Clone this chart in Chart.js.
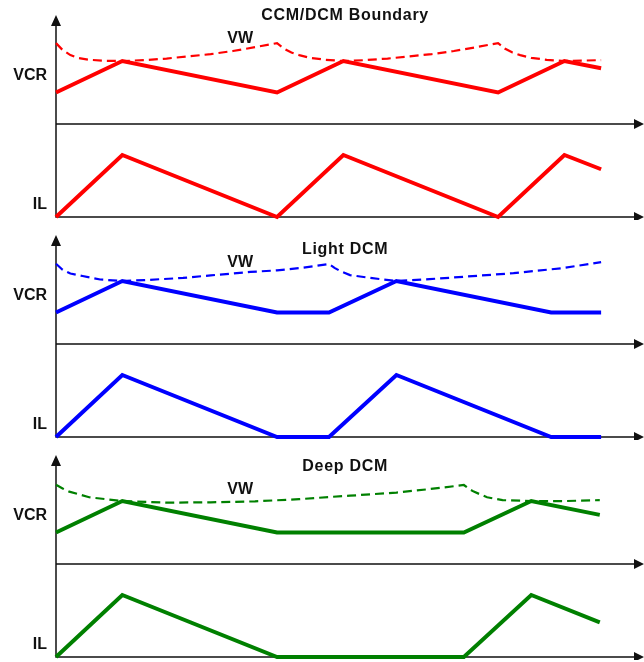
<!DOCTYPE html>
<html><head><meta charset="utf-8">
<script src="https://cdn.jsdelivr.net/npm/chart.js@4.4.1/dist/chart.umd.min.js"></script>
<style>
html,body{margin:0;padding:0;background:#fff;}
canvas{display:block;}
</style></head><body>
<canvas id="c1" width="644" height="220"></canvas>
<canvas id="c2" width="644" height="220"></canvas>
<canvas id="c3" width="644" height="220"></canvas>
<script>
// ---- text ----
const panelTitles = ['CCM/DCM Boundary', 'Light DCM', 'Deep DCM'];
const axisLabels = ['VCR', 'IL'];
const dashedLabel = 'VW';

// ---- CCM/DCM boundary ----
const ccmT   = [0, 3, 10, 13, 20, 23, 24.66];
const ccmVCR = [1, 2, 1, 2, 1, 2, 1.77];
const ccmIL  = [0, 1, 0, 1, 0, 1, 0.77];
const ccmVwT = [0, 0.3, 0.65, 1.0, 1.5, 2.2, 3, 4, 5, 6, 7, 8, 9, 10,
                10.3, 10.65, 11, 11.5, 12.2, 13, 14, 15, 16, 17, 18, 19, 20,
                20.3, 20.65, 21, 21.5, 22.2, 23, 24.66];
const ccmVW  = [2.57, 2.35, 2.19, 2.1, 2.04, 2.01, 2.0, 2.03, 2.08, 2.15, 2.22, 2.32, 2.44, 2.57,
                2.4, 2.27, 2.19, 2.1, 2.04, 2.0, 2.03, 2.08, 2.15, 2.22, 2.32, 2.44, 2.57,
                2.4, 2.27, 2.19, 2.1, 2.04, 2.0, 2.03];

// ---- Light DCM ----
const lightT   = [0, 3, 10, 12.35, 15.4, 22.4, 24.66];
const lightVCR = [1, 2, 1, 1, 2, 1, 1];
const lightIL  = [0, 1, 0, 0, 1, 0, 0];
const lightVwT = [0, 0.3, 0.65, 1.2, 2, 3, 4, 5.75, 7, 8.8, 10, 11, 12.35,
                  12.6, 12.85, 13.3, 14.2, 15.4, 16.9, 18.5, 20.7, 22.9, 24.66];
const lightVW  = [2.55, 2.36, 2.24, 2.16, 2.05, 2.0, 2.03, 2.1, 2.18, 2.29, 2.34, 2.41, 2.54,
                  2.42, 2.32, 2.19, 2.1, 2.0, 2.06, 2.14, 2.25, 2.41, 2.6];

// ---- Deep DCM ----
const deepT   = [0, 3, 10, 18.45, 21.5, 24.6];
const deepVCR = [1, 2, 1, 1, 2, 1.56];
const deepIL  = [0, 1, 0, 0, 1, 0.56];
const deepVwT = [0, 0.3, 0.6, 1.5, 3, 5, 7, 9, 11, 12.4, 13.3, 15.4, 16.9, 18.45,
                 18.7, 18.9, 19.5, 20.2, 21.5, 23, 24.6];
const deepVW  = [2.52, 2.4, 2.3, 2.12, 2.0, 1.95, 1.96, 1.99, 2.06, 2.13, 2.17, 2.27, 2.38, 2.51,
                 2.38, 2.3, 2.12, 2.03, 2.0, 2.0, 2.03];

const pairs = (ts, vs) => ts.map((t, i) => ({x: t, y: vs[i]}));
const FONT = '"Liberation Sans", Arial, sans-serif';

const axesPlugin = {
  id: 'axesArrows',
  beforeDatasetsDraw(chart, args, opts) {
    const {ctx, scales: {x, yV, yI}} = chart;
    const x0 = x.getPixelForValue(0), xR = x.getPixelForValue(x.max);
    const yV0 = yV.getPixelForValue(0), yI0 = yI.getPixelForValue(0);
    const yTip = yV.getPixelForValue(opts.tip);
    ctx.save();
    ctx.strokeStyle = '#111';
    ctx.fillStyle = '#111';
    ctx.lineWidth = 1.5;
    ctx.beginPath();
    ctx.moveTo(x0, yI0 + 0.75); ctx.lineTo(x0, yTip + 6);
    ctx.moveTo(x0, yV0); ctx.lineTo(xR - 6, yV0);
    ctx.moveTo(x0, yI0); ctx.lineTo(xR - 6, yI0);
    ctx.stroke();
    ctx.beginPath();
    ctx.moveTo(x0, yTip); ctx.lineTo(x0 - 5, yTip + 11); ctx.lineTo(x0 + 5, yTip + 11); ctx.closePath();
    [yV0, yI0].forEach(yy => {
      ctx.moveTo(xR, yy); ctx.lineTo(xR - 10, yy - 5); ctx.lineTo(xR - 10, yy + 5); ctx.closePath();
    });
    ctx.fill();
    ctx.restore();
  },
  afterDraw(chart, args, opts) {
    const {ctx, scales: {x, yV}} = chart;
    ctx.save();
    ctx.fillStyle = '#111';
    ctx.textAlign = 'center';
    ctx.textBaseline = 'middle';
    ctx.font = 'bold 16px ' + FONT;
    ctx.letterSpacing = '0.7px';
    ctx.fillText(opts.title, x.getPixelForValue(opts.titlePos[0]), yV.getPixelForValue(opts.titlePos[1]));
    ctx.letterSpacing = '0px';
    ctx.fillText(dashedLabel, x.getPixelForValue(opts.vwPos[0]), yV.getPixelForValue(opts.vwPos[1]));
    ctx.restore();
  }
};

function labelAxis(text, value, min, max, stackWeight, weight) {
  return {
    type: 'linear', position: 'left', stack: 'panel', stackWeight, weight,
    min, max,
    grid: {display: false, drawTicks: false},
    border: {display: false},
    ticks: {padding: 9, color: '#111', font: {family: FONT, size: 16, weight: 'bold'}, callback: () => text},
    afterBuildTicks: s => { s.ticks = [{value}]; },
    afterFit: s => { s.width = 56; s.paddingTop = 0; s.paddingBottom = 0; }
  };
}

function makeChart(id, cfg) {
  const dash = {borderColor: cfg.color, borderWidth: 2.2, borderDash: [9, 5], yAxisID: 'yV', tension: 0, clip: false};
  const solid = {borderColor: cfg.color, borderWidth: 4, tension: 0, clip: false, borderJoinStyle: 'miter'};
  new Chart(document.getElementById(id), {
    type: 'line',
    data: {
      datasets: [
        Object.assign({label: dashedLabel, data: pairs(cfg.vwT, cfg.vw)}, dash),
        Object.assign({label: axisLabels[0], data: pairs(cfg.t, cfg.vcr), yAxisID: 'yV'}, solid),
        Object.assign({label: axisLabels[1], data: pairs(cfg.t, cfg.il), yAxisID: 'yI'}, solid)
      ]
    },
    options: {
      responsive: false, animation: false, devicePixelRatio: 1,
      layout: {autoPadding: false, padding: {left: 0, right: 0, top: 0, bottom: 3}},
      elements: {point: {radius: 0, hoverRadius: 0}},
      plugins: {
        legend: {display: false}, tooltip: {enabled: false},
        axesArrows: {tip: 3.46, title: cfg.title, titlePos: cfg.titlePos, vwPos: cfg.vwPos}
      },
      scales: {
        x: {type: 'linear', display: false, min: 0, max: 26.6},
        yV: labelAxis(axisLabels[0], 1.55, 0, 3.94, 124, 2),
        yI: labelAxis(axisLabels[1], 0.2, 0, 1.5, 93, 1)
      }
    },
    plugins: [axesPlugin]
  });
}

makeChart('c1', {color: '#ff0000', title: panelTitles[0], titlePos: [13.08, 3.43], vwPos: [8.33, 2.71],
  t: ccmT, vcr: ccmVCR, il: ccmIL, vwT: ccmVwT, vw: ccmVW});
makeChart('c2', {color: '#0000ff', title: panelTitles[1], titlePos: [13.08, 2.99], vwPos: [8.33, 2.6],
  t: lightT, vcr: lightVCR, il: lightIL, vwT: lightVwT, vw: lightVW});
makeChart('c3', {color: '#008000', title: panelTitles[2], titlePos: [13.08, 3.08], vwPos: [8.33, 2.38],
  t: deepT, vcr: deepVCR, il: deepIL, vwT: deepVwT, vw: deepVW});
</script>
</body></html>
